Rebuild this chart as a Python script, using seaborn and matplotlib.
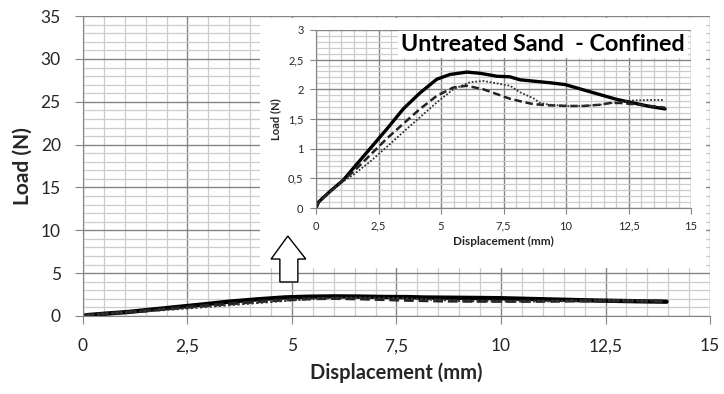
import numpy as np
import pandas as pd
import matplotlib
matplotlib.use("Agg")
import matplotlib.pyplot as plt
import seaborn as sns
from matplotlib.patches import Polygon
from matplotlib.ticker import MultipleLocator, FixedLocator, FixedFormatter

# Load-displacement curves (three tests)
test1_x = [0, 0.1, 0.3, 0.56, 1.09, 1.49, 2.16, 2.83, 3.49, 4.16, 4.83, 5.36, 6.03, 6.56,
           7.23, 7.76, 8.16, 9.36, 9.96, 10.7, 11.36, 12.03, 12.7, 13.36, 13.96]
test1_y = [0, 0.1, 0.18, 0.28, 0.47, 0.67, 1.0, 1.33, 1.67, 1.94, 2.17, 2.25, 2.29, 2.27,
           2.22, 2.21, 2.16, 2.11, 2.08, 1.99, 1.91, 1.83, 1.77, 1.71, 1.67]

test2_x = [0, 0.1, 0.56, 1.09, 1.49, 2.16, 2.83, 3.49, 4.16, 4.83, 5.49, 6.03, 6.69, 7.23,
           7.76, 8.16, 8.69, 9.36, 10.03, 10.7, 11.36, 11.76, 12.16, 12.7, 13.36, 13.96]
test2_y = [0, 0.1, 0.28, 0.47, 0.61, 0.89, 1.17, 1.42, 1.67, 1.89, 2.03, 2.06, 2.0, 1.92,
           1.84, 1.80, 1.75, 1.73, 1.72, 1.72, 1.74, 1.77, 1.77, 1.75, 1.72, 1.69]

test3_x = [0, 0.1, 0.56, 1.09, 1.49, 2.16, 2.83, 3.49, 4.16, 4.83, 5.49, 6.16, 6.69, 7.23,
           7.76, 8.16, 8.69, 8.96, 9.36, 10.03, 10.7, 11.36, 12.03, 12.56, 13.36, 13.9]
test3_y = [0, 0.1, 0.27, 0.45, 0.56, 0.78, 1.03, 1.28, 1.53, 1.78, 2.0, 2.12, 2.14, 2.1,
           2.06, 1.95, 1.85, 1.77, 1.74, 1.72, 1.72, 1.74, 1.78, 1.81, 1.82, 1.82]

main_xticks = [0, 2.5, 5, 7.5, 10, 12.5, 15]
main_xlabels = ["0", "2,5", "5", "7,5", "10", "12,5", "15"]
main_yticks = [0, 5, 10, 15, 20, 25, 30, 35]
main_ylabels = ["0", "5", "10", "15", "20", "25", "30", "35"]
inset_yticks = [0, 0.5, 1, 1.5, 2, 2.5, 3]
inset_ylabels = ["0", "0,5", "1", "1,5", "2", "2,5", "3"]

title = "Untreated Sand  - Confined"

sns.set_style("white")
plt.rcParams["font.family"] = ["Lato", "DejaVu Sans"]

major_c = "#858585"
minor_c = "#cccccc"
tick_c = "#262626"


def style_axes(ax, xt, xl, yt, yl, xminor, yminor, fs):
    ax.xaxis.set_major_locator(FixedLocator(xt))
    ax.xaxis.set_major_formatter(FixedFormatter(xl))
    ax.yaxis.set_major_locator(FixedLocator(yt))
    ax.yaxis.set_major_formatter(FixedFormatter(yl))
    ax.xaxis.set_minor_locator(MultipleLocator(xminor))
    ax.yaxis.set_minor_locator(MultipleLocator(yminor))
    ax.grid(which="minor", color=minor_c, lw=0.9)
    ax.grid(which="major", color=major_c, lw=1.0)
    ax.set_axisbelow(True)
    for s in ["top", "right"]:
        ax.spines[s].set_visible(False)
    for s in ["left", "bottom"]:
        ax.spines[s].set_color(major_c)
    ax.tick_params(which="major", direction="out", color=major_c, labelcolor=tick_c,
                   labelsize=fs, left=True, bottom=True)
    ax.tick_params(which="minor", length=0)


def draw_curves(ax, lw_scale):
    sns.lineplot(x=test1_x, y=test1_y, ax=ax, color="black", lw=2.4 * lw_scale)
    sns.lineplot(x=test2_x, y=test2_y, ax=ax, color="#222222", lw=1.8 * lw_scale, linestyle=(0, (3, 1.5)))
    sns.lineplot(x=test3_x, y=test3_y, ax=ax, color="#333333", lw=1.3 * lw_scale, linestyle=(0, (1, 1)))


fig = plt.figure(figsize=(7.24, 3.94), dpi=100)

# main chart
ax = fig.add_axes([0.1146, 0.198, 0.8661, 0.761])
draw_curves(ax, 1.3)
ax.set_xlim(0, 15)
ax.set_ylim(0, 35)
style_axes(ax, main_xticks, main_xlabels, main_yticks, main_ylabels, 0.5, 1, 12.5)
ax.tick_params(which="major", length=6, pad=10)
ax.set_xlabel("Displacement (mm)", fontsize=14.5, fontweight="bold", labelpad=6)
ax.set_ylabel("Load (N)", fontsize=15, fontweight="bold", labelpad=6)

# white panel behind the zoomed chart
bg = fig.add_axes([0.359, 0.32, 0.616, 0.634])
bg.set_facecolor("white")
bg.set_xticks([])
bg.set_yticks([])
for s in bg.spines.values():
    s.set_visible(False)

# hollow arrow pointing at the zoomed chart
arrow_pts = [(4.90, 9.33), (5.33, 6.65), (5.14, 6.65), (5.14, 3.97),
             (4.71, 3.97), (4.71, 6.65), (4.50, 6.65)]
bg.add_patch(Polygon(arrow_pts, closed=True, facecolor="white", edgecolor="black",
                     lw=1.0, transform=ax.transData, clip_on=False, zorder=5))

# zoomed chart
axi = fig.add_axes([0.4365, 0.472, 0.518, 0.452])
draw_curves(axi, 1.0)
axi.set_xlim(0, 15)
axi.set_ylim(0, 3)
style_axes(axi, main_xticks, main_xlabels, inset_yticks, inset_ylabels, 0.5, 0.1, 8)
axi.tick_params(which="major", length=4, pad=5)
axi.set_xlabel("Displacement (mm)", fontsize=8.5, fontweight="bold", labelpad=3)
axi.set_ylabel("Load (N)", fontsize=8, fontweight="bold", labelpad=5)
axi.text(14.75, 2.75, title, ha="right", va="center", fontsize=16.8, fontweight="bold",
         color="black", bbox=dict(facecolor="white", edgecolor="none", pad=2))

fig.savefig("out.png", dpi=100)
